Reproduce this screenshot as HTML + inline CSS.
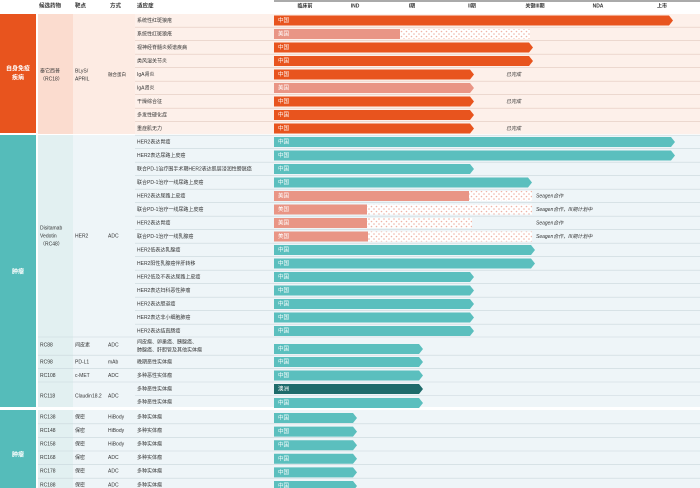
<!DOCTYPE html>
<html><head><meta charset="utf-8"><style>
body{margin:0;background:#fff}
svg{display:block}
text{font-family:"Liberation Sans","Noto Sans CJK SC",sans-serif}
</style></head><body>
<svg id="s" width="700" height="488" xmlns="http://www.w3.org/2000/svg">
<defs>
<pattern id="dots" width="5" height="5" patternUnits="userSpaceOnUse"><rect width="5" height="5" fill="#fff"/><circle cx="1.5" cy="1.5" r="0.8" fill="#f0b3a6"/><circle cx="4" cy="4" r="0.8" fill="#f0b3a6"/></pattern>
</defs>
<g id="g"></g>
</svg>
<script>
const g=document.getElementById('g');let h='';
function R(x,y,w,hh,f){h+=`<rect x="${x}" y="${y}" width="${w}" height="${hh}" fill="${f}"/>`}
function T(x,y,t,o){o=o||{};h+=`<text x="${x}" y="${y}" font-size="${o.s||5.5}" fill="${o.c||'#333'}" ${o.a?'text-anchor="'+o.a+'"':''} ${o.w?'font-weight="bold"':''} ${o.i?'font-style="italic"':''} dominant-baseline="middle">${t}</text>`}
function bar(y,end,col,lab,tc){const t=y-5,b=y+5;h+=`<polygon points="274,${t} ${end-4},${t} ${end},${y} ${end-4},${b} 274,${b}" fill="${col}"/>`;T(278,y,lab,{c:tc||'#fff',s:5.5})}
function sbar(y,se,de,lab){R(274,y-5,se-274,10,'#e99585');R(se,y-5,de-se,10,'url(#dots)');T(278,y,lab,{c:'#fff'})}
// header
h+='<line x1="274" y1="1" x2="700" y2="1" stroke="#555" stroke-width="1"/>';
[[39,'候选药物'],[75,'靶点'],[110,'方式'],[137,'适应症']].forEach(a=>T(a[0],6,a[1],{s:5.5,w:1}));
[[305,'临床前'],[355,'IND'],[412,'I期'],[472,'II期'],[535,'关键III期'],[598,'NDA'],[662,'上市']].forEach(a=>T(a[0],6,a[1],{s:5,w:1,a:'middle'}));
// autoimmune block
R(0,14,36,119,'#e8541e');T(18,69,'自身免疫',{c:'#fff',s:6,a:'middle',w:1});T(18,78,'疾病',{c:'#fff',s:6,a:'middle',w:1});
R(38,14,35,120,'#fbdccf');R(73,14,62,120,'#fdebe3');R(135,14,565,120,'#fdf0ea');
T(40,71,'泰它西普',{s:5});T(40,79,'（RC18）',{s:5});T(75,71,'BLyS/',{s:5});T(75,79,'APRIL',{s:5});T(108,75,'融合蛋白',{s:4.5});
const ai=[['系统性红斑狼疮',673,'o','中国'],['系统性红斑狼疮',[400,530],'s','美国'],['视神经脊髓炎频谱疾病',533,'o','中国'],['类风湿关节炎',533,'o','中国'],['IgA肾炎',474,'o','中国','已完成'],['IgA肾炎',474,'p','美国'],['干燥综合征',474,'o','中国','已完成'],['多发性硬化症',474,'o','中国'],['重症肌无力',474,'o','中国','已完成']];
ai.forEach((r,i)=>{const y=20.5+i*13.5;if(i>0)h+=`<line x1="135" y1="${y-6.8}" x2="700" y2="${y-6.8}" stroke="#e3c9bf" stroke-width="0.6"/>`;T(137,y,r[0],{s:5});
 if(r[2]=='o')bar(y,r[1],'#e8541e',r[3]);else if(r[2]=='p')bar(y,r[1],'#e99585',r[3]);else sbar(y,r[1][0],r[1][1],r[3]);
 if(r[4])T(506,y,r[4],{s:5,i:1});});
// tumor block 1
R(0,135,36,272,'#55bcba');T(18,272,'肿瘤',{c:'#fff',s:6,a:'middle',w:1});
R(38,135,35,272,'#e2f0f1');R(73,135,627,272,'#eef5f8');
T(40,228,'Disitamab',{s:5});T(40,236,'Vedotin',{s:5});T(40,244,'（RC48）',{s:5});T(75,236,'HER2',{s:5});T(108,236,'ADC',{s:5});
const tm=[['HER2表达胃癌',675],['HER2表达尿路上皮癌',675],['联合PD-1治疗围手术期HER2表达肌层浸润性膀胱癌',474],['联合PD-1治疗一线尿路上皮癌',532],['HER2表达尿路上皮癌',[469,532],'Seagen合作'],['联合PD-1治疗一线尿路上皮癌',[367,532],'Seagen合作，III期计划中'],['HER2表达胃癌',[367,472],'Seagen合作'],['联合PD-1治疗一线乳腺癌',[368,532],'Seagen合作，III期计划中'],['HER2低表达乳腺癌',535],['HER2阳性乳腺癌伴肝转移',535],['HER2低及不表达尿路上皮癌',474],['HER2表达妇科恶性肿瘤',474],['HER2表达胆道癌',474],['HER2表达非小细胞肺癌',474],['HER2表达结直肠癌',474]];
tm.forEach((r,i)=>{const y=142+i*13.5;h+=`<line x1="135" y1="${y-6.8}" x2="700" y2="${y-6.8}" stroke="#c9d6dc" stroke-width="0.6"/>`;T(137,y,r[0],{s:5});
 if(Array.isArray(r[1])){sbar(y,r[1][0],r[1][1],'美国');T(536,y,r[2],{s:5,i:1});}else bar(y,r[1],'#5bbfbe','中国');});
h+=`<line x1="38" y1="337" x2="700" y2="337" stroke="#c9d6dc" stroke-width="0.6"/>`;
T(40,345,'RC88',{s:5});T(75,345,'间皮素',{s:5});T(108,345,'ADC',{s:5});T(137,342,'间皮瘤、卵巢癌、胰腺癌、',{s:5});T(137,350,'肺腺癌、肝胆管及其他实体瘤',{s:5});bar(349,423,'#5bbfbe','中国');
[[362,'RC98','PD-L1','mAb','晚期恶性实体瘤'],[375.5,'RC108','c-MET','ADC','多种恶性实体瘤']].forEach(r=>{h+=`<line x1="38" y1="${r[0]-6.8}" x2="700" y2="${r[0]-6.8}" stroke="#c9d6dc" stroke-width="0.6"/>`;T(40,r[0],r[1],{s:5});T(75,r[0],r[2],{s:5});T(108,r[0],r[3],{s:5});T(137,r[0],r[4],{s:5});bar(r[0],423,'#5bbfbe','中国')});
h+=`<line x1="38" y1="382" x2="700" y2="382" stroke="#c9d6dc" stroke-width="0.6"/><line x1="135" y1="395.5" x2="700" y2="395.5" stroke="#c9d6dc" stroke-width="0.6"/>`;
T(40,396,'RC118',{s:5});T(75,396,'Claudin18.2',{s:5});T(108,396,'ADC',{s:5});
T(137,389,'多种恶性实体瘤',{s:5});bar(389,423,'#1e6b6b','澳洲');T(137,402,'多种恶性实体瘤',{s:5});bar(403,423,'#5bbfbe','中国');
// tumor block 2
R(0,410,36,78,'#55bcba');T(18,455,'肿瘤',{c:'#fff',s:6,a:'middle',w:1});
R(38,410,35,78,'#e2f0f1');R(73,410,627,78,'#eef5f8');
[['RC138','HiBody'],['RC148','HiBody'],['RC158','HiBody'],['RC168','ADC'],['RC178','ADC'],['RC188','ADC']].forEach((r,i)=>{const y=417+i*13.6;if(i>0)h+=`<line x1="38" y1="${y-6.8}" x2="700" y2="${y-6.8}" stroke="#c9d6dc" stroke-width="0.6"/>`;
 T(40,y,r[0],{s:5});T(75,y,'保密',{s:5});T(108,y,r[1],{s:5});T(137,y,'多种实体瘤',{s:5});bar(y+1,357,'#5bbfbe','中国')});
g.innerHTML=h;
</script>
</body></html>
